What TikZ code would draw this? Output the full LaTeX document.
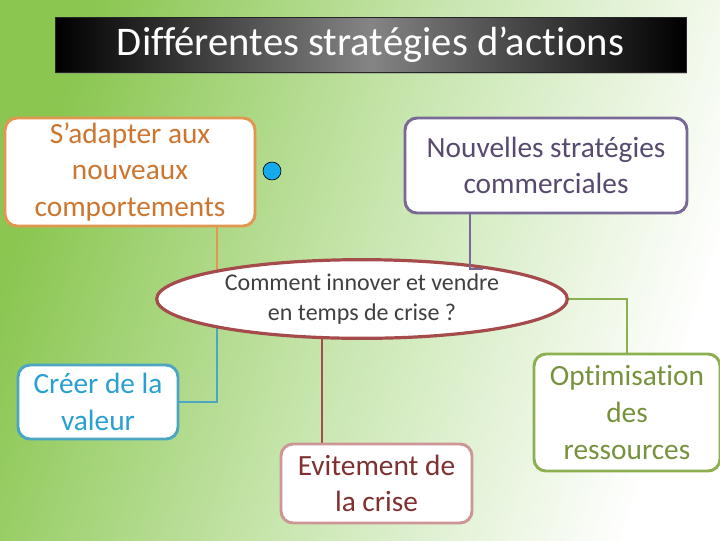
\documentclass[tikz,border=0pt]{standalone}
\usepackage{fontspec}
\setmainfont{Carlito}[Ligatures=NoCommon]
\usetikzlibrary{shapes.geometric,shadows}
\definecolor{bggreen}{RGB}{138,198,80}
\definecolor{bgmid}{RGB}{200,230,175}
\definecolor{orbord}{RGB}{226,150,80}
\definecolor{ortext}{RGB}{204,118,48}
\definecolor{puborder}{RGB}{120,105,150}
\definecolor{putext}{RGB}{88,74,110}
\definecolor{blborder}{RGB}{75,165,195}
\definecolor{bltext}{RGB}{40,160,210}
\definecolor{rdborder}{RGB}{205,150,150}
\definecolor{rdtext}{RGB}{128,48,48}
\definecolor{gnborder}{RGB}{140,175,80}
\definecolor{gntext}{RGB}{118,146,60}
\definecolor{elborder}{RGB}{165,75,75}
\definecolor{eltext}{RGB}{64,64,64}
\definecolor{dotblue}{RGB}{20,170,236}
\pgfdeclarelayer{bg}
\pgfsetlayers{bg,main}
\tikzset{
  box/.style={draw, fill=white, rounded corners=9pt, line width=2.2pt, align=center,
    font=\fontsize{22pt}{27.5pt}\selectfont, inner sep=0pt},
  conn/.style={line width=0.8pt}
}
\begin{document}
\begin{tikzpicture}[x=0.75pt,y=-0.75pt]
\useasboundingbox (0,0) rectangle (720,540);
% title
\node[minimum width=473.25pt, minimum height=41.25pt, inner sep=0pt, draw=black!85, line width=0.6pt,
  left color=black, right color=black, middle color=black!48,
  drop shadow={shadow xshift=1pt, shadow yshift=-1.5pt, opacity=0.4},
  text=white, font=\fontsize{30.5pt}{36pt}\selectfont] (title) at (370.5,44.5) {Différentes stratégies d’actions};
% boxes
\node[box, draw=orbord, text=ortext, minimum width=187.5pt, minimum height=81pt] (sadapt) at (130,172) {S’adapter aux\\nouveaux\\comportements};
\node[box, draw=puborder, text=putext, minimum width=211.5pt, minimum height=71.25pt] (nouv) at (546,165.5) {Nouvelles stratégies\\commerciales};
\node[box, draw=blborder, text=bltext, minimum width=120pt, minimum height=55.5pt] (cree) at (98,402) {Créer de la\\valeur};
\node[box, draw=rdborder, text=rdtext, minimum width=143.25pt, minimum height=59.25pt] (evit) at (376.5,483.5) {Evitement de\\la crise};
\node[box, draw=gnborder, text=gntext, minimum width=139.5pt, minimum height=87.75pt] (opt) at (627,412.5) {Optimisation\\des\\ressources};
\node[ellipse, draw=elborder, line width=2.4pt, fill=white, minimum width=308pt, minimum height=59pt,
  inner sep=0pt, align=center, text=eltext, font=\fontsize{18pt}{22pt}\selectfont] (ell) at (362,299) {Comment innover et vendre\\en temps de crise ?};
\node[circle, draw=black, line width=0.5pt, fill=dotblue, minimum size=13.5pt, inner sep=0pt] (dot) at (272,171) {};
\coordinate (xa) at (217,0);
\coordinate (xe) at (322,0);
\coordinate (nbend) at (470,269);
\coordinate (nend) at (483,269);
\begin{pgfonlayer}{bg}
\shade[left color=bggreen, right color=white, middle color=bgmid, shading angle=72] (0,0) rectangle (720,540);
\draw[conn, draw=orbord] (sadapt.south -| xa) -- (xa |- ell.center);
\draw[conn, draw=blborder] (xa |- ell.center) |- (cree.east);
\draw[conn, draw=gnborder] (ell.center) -| (opt.north);
\draw[conn, draw=elborder] (xe |- ell.center) -- (evit.north -| xe);
\end{pgfonlayer}
\draw[conn, draw=puborder] (nouv.south -| nbend) -- (nbend) -- (nend);
\end{tikzpicture}
\end{document}
